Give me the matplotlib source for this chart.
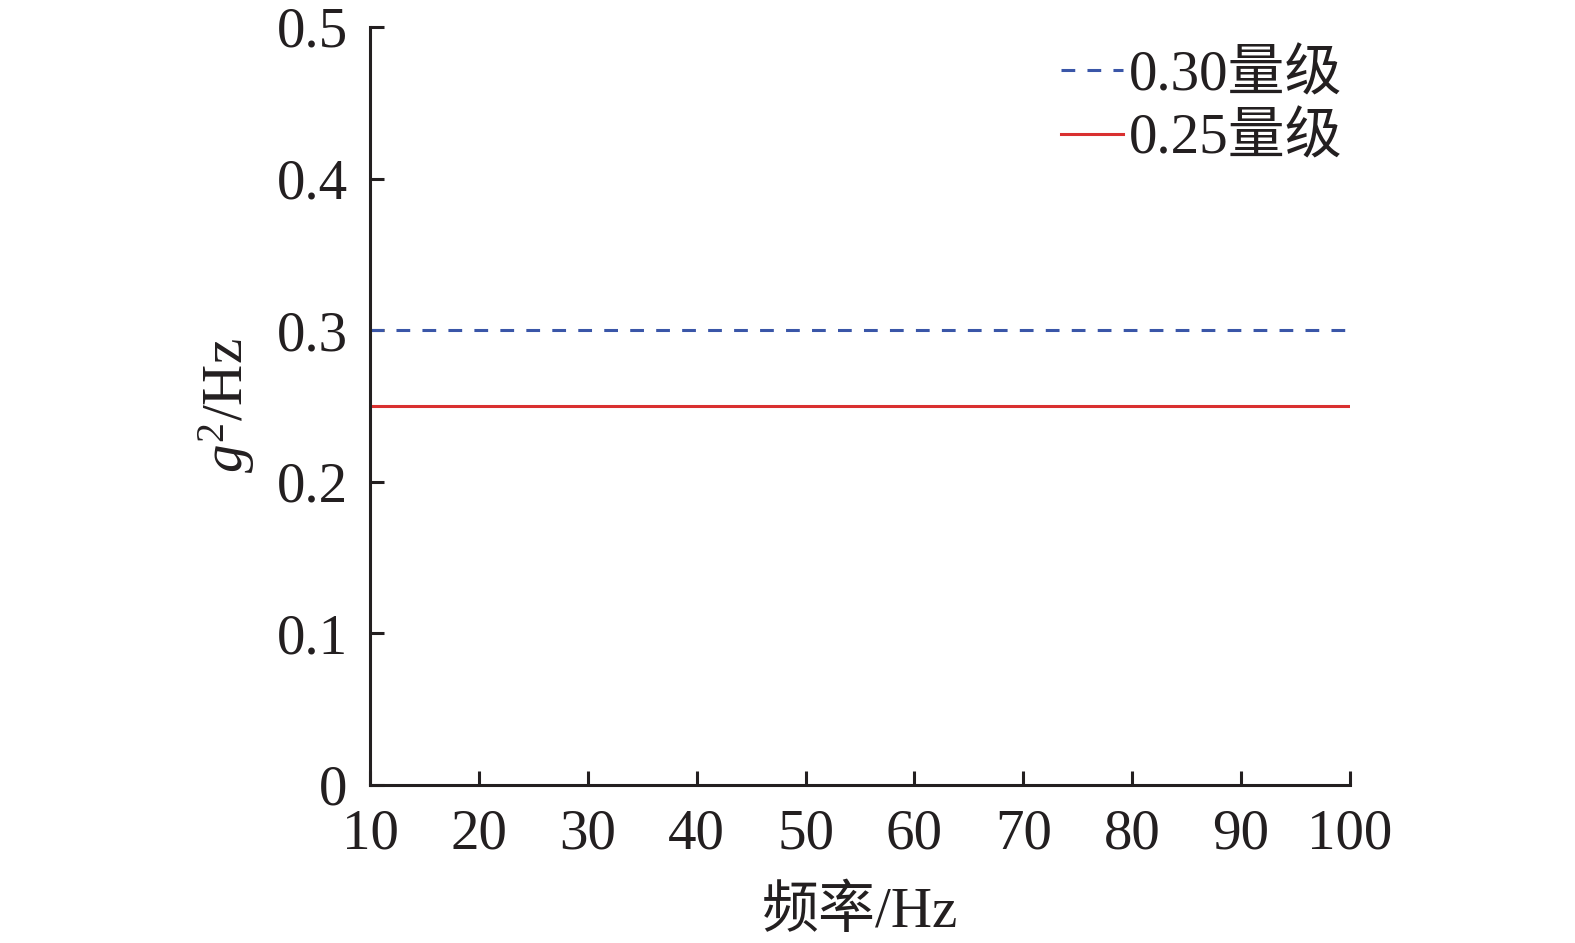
import numpy as np
import matplotlib.pyplot as plt

plt.rcParams['font.family'] = ['Liberation Serif', 'Noto Sans CJK SC']
plt.rcParams['mathtext.fontset'] = 'custom'
plt.rcParams['mathtext.it'] = 'Liberation Serif:italic'
plt.rcParams['mathtext.rm'] = 'Liberation Serif'

freq = [10, 100]
level_030 = [0.30, 0.30]
level_025 = [0.25, 0.25]
labels = ['0.30量级', '0.25量级']
xticks = [10, 20, 30, 40, 50, 60, 70, 80, 90, 100]
yticks = [0, 0.1, 0.2, 0.3, 0.4, 0.5]
ytick_labels = ['0', '0.1', '0.2', '0.3', '0.4', '0.5']

fig = plt.figure(figsize=(15.75, 9.43), dpi=100)
ax = fig.add_axes([0.2349, 0.1676, 0.8571 - 0.2349, 0.9714 - 0.1676])

ax.plot(freq, level_030, color='#3a56a8', lw=2.2, linestyle=(0, (4.5, 4)), label=labels[0])
ax.plot(freq, level_025, color='#d93030', lw=2.2, label=labels[1])

ax.set_xlim(10, 100)
ax.set_ylim(0, 0.5)
ax.set_xticks(xticks)
ax.set_yticks(yticks)
ax.set_yticklabels(ytick_labels)

for s in ['top', 'right']:
    ax.spines[s].set_visible(False)
for s in ['left', 'bottom']:
    ax.spines[s].set_linewidth(2.2)
    ax.spines[s].set_color('#231f20')

ax.tick_params(direction='in', length=10, width=2.2, color='#231f20',
               labelsize=41, labelcolor='#231f20')
ax.tick_params(axis='x', pad=17)
ax.tick_params(axis='y', pad=16)

ax.set_xlabel('频率/Hz', fontsize=41, color='#231f20', labelpad=18)
ax.set_ylabel(r'$g^2$/Hz', fontsize=41, color='#231f20', labelpad=14)

leg = ax.legend(loc='upper right', bbox_to_anchor=(1.016, 1.0), frameon=False,
                fontsize=41, handlelength=1.1, handletextpad=0.1,
                labelspacing=0.2, borderaxespad=0)
for t in leg.get_texts():
    t.set_color('#231f20')

fig.savefig('out.png', dpi=100)
